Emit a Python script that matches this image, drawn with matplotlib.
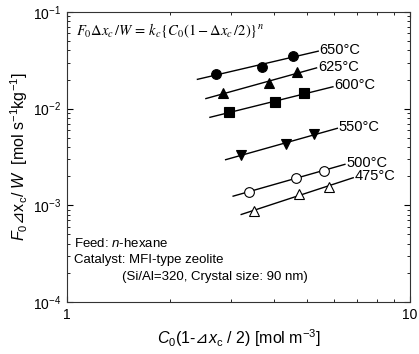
import numpy as np
import matplotlib
matplotlib.use("Agg")
import matplotlib.pyplot as plt
from matplotlib.ticker import LogLocator, NullFormatter, FixedLocator, FixedFormatter

plt.rcParams['font.family'] = ['Liberation Sans', 'DejaVu Sans']
plt.rcParams['mathtext.fontset'] = 'custom'
plt.rcParams['mathtext.rm'] = 'Liberation Sans'
plt.rcParams['mathtext.it'] = 'Liberation Sans:italic'
plt.rcParams['mathtext.bf'] = 'Liberation Sans:bold'
plt.rcParams['mathtext.sf'] = 'DejaVu Sans'  # para el simbolo ⊿

# datos
temps = ['650', '625', '600', '550', '500', '475']
x650 = [2.72, 3.70, 4.55]
y650 = [0.0229, 0.0270, 0.0355]
x625 = [2.84, 3.88, 4.69]
y625 = [0.0144, 0.0186, 0.0238]
x600 = [2.97, 4.04, 4.91]
y600 = [0.0092, 0.0117, 0.0144]
x550 = [3.21, 4.35, 5.26]
y550 = [0.00332, 0.00431, 0.00547]
x500 = [3.40, 4.64, 5.61]
y500 = [0.00138, 0.00193, 0.00228]
x475 = [3.52, 4.76, 5.79]
y475 = [0.00088, 0.00131, 0.00156]
# rango de las rectas de ajuste
linea_ini = [2.40, 2.54, 2.61, 2.90, 3.05, 3.22]
linea_fin = [5.40, 5.34, 5.96, 6.14, 6.46, 6.83]

xs = [x650, x625, x600, x550, x500, x475]
ys = [y650, y625, y600, y550, y500, y475]
marcadores = ['o', '^', 's', 'v', 'o', '^']
rellenos = ['black', 'black', 'black', 'black', 'white', 'white']

fig = plt.figure(figsize=(4.19, 3.54), dpi=100)
ax = fig.add_axes([0.160, 0.147, 0.8185, 0.819])

for i in range(len(temps)):
    lx = np.log10(xs[i])
    ly = np.log10(ys[i])
    p = np.polyfit(lx, ly, 1)
    xl = np.array([linea_ini[i], linea_fin[i]])
    yl = 10 ** np.polyval(p, np.log10(xl))
    ax.plot(xl, yl, color='black', lw=1)
    ax.plot(xs[i], ys[i], linestyle='none', marker=marcadores[i],
            markersize=7, markerfacecolor=rellenos[i], markeredgecolor='black',
            markeredgewidth=0.8)
    ax.annotate(temps[i] + '°C', xy=(xl[1], yl[1]), xytext=(1, 1),
                textcoords='offset points', ha='left', va='center', fontsize=10.5)

ax.set_xscale('log')
ax.set_yscale('log')
ax.set_xlim(1, 10)
ax.set_ylim(1e-4, 1e-1)

ax.xaxis.set_major_locator(FixedLocator([1, 10]))
ax.xaxis.set_major_formatter(FixedFormatter(['1', '10']))
ax.xaxis.set_minor_locator(LogLocator(base=10, subs=np.arange(2, 10)))
ax.xaxis.set_minor_formatter(NullFormatter())
ax.yaxis.set_minor_locator(LogLocator(base=10, subs=np.arange(2, 10)))
ax.yaxis.set_minor_formatter(NullFormatter())

ax.tick_params(which='both', direction='in', top=True, right=True, labelsize=10)
ax.tick_params(which='major', length=4, width=0.8, pad=4)
ax.tick_params(which='minor', length=2.5, width=0.6)
for s in ax.spines.values():
    s.set_linewidth(0.8)
    s.set_color('#333333')

ax.set_xlabel(r'$C_0$(1-$\mathsf{⊿}x_\mathrm{c}$ / 2) [mol m$^{-3}$]', fontsize=11.5, labelpad=4)
ax.set_ylabel(r'$F_0\mathsf{⊿}\mathrm{x}_\mathrm{c}$/ $W$  [mol s$^{-1}$kg$^{-1}$]', fontsize=11.5, labelpad=2)

ax.text(0.025, 0.935, r'$F_0\Delta x_c\,/W\,=\,k_c\{C_0(1-\Delta x_c\,/2)\}^n$',
        transform=ax.transAxes, fontsize=10.5, math_fontfamily='stix', va='center')

ax.text(0.02, 0.20, r'Feed: $n$-hexane', transform=ax.transAxes, fontsize=9.5, va='center')
ax.text(0.02, 0.145, 'Catalyst: MFI-type zeolite', transform=ax.transAxes, fontsize=9.5, va='center')
ax.text(0.16, 0.085, '(Si/Al=320, Crystal size: 90 nm)', transform=ax.transAxes, fontsize=9.5, va='center')

plt.savefig('out.png', dpi=100)
